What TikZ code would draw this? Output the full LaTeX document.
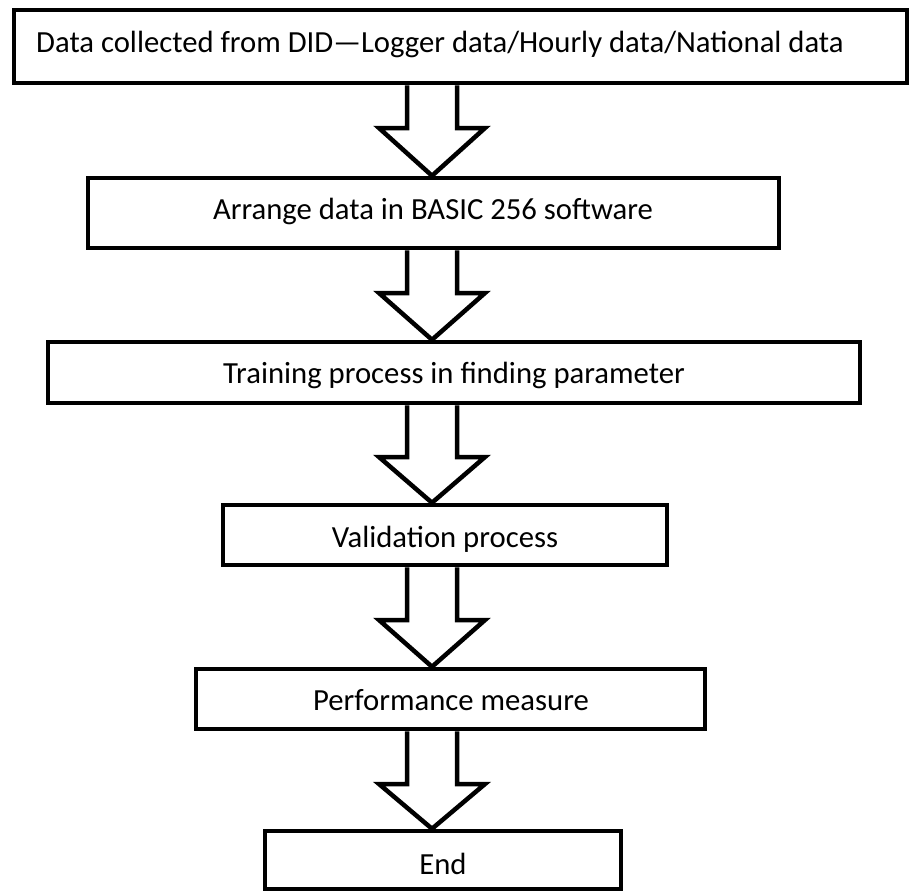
\documentclass[tikz,border=0pt]{standalone}
\usepackage{fontspec}
\setmainfont{Carlito}
\begin{document}
\begin{tikzpicture}[x=1pt,y=-1pt,
  boxnode/.style={draw=black, line width=4.5pt, rectangle, inner sep=0pt, fill=white},
  lbl/.style={font=\fontsize{30.7}{34}\selectfont, inner sep=0pt},
  blockarrow/.style={draw=black, line width=4.5pt, fill=white, line join=miter}]
\useasboundingbox (0,0) rectangle (910,892);
\newcommand\blockarr[4]{%
  \draw[blockarrow] (#3-25,0 |- #1.south) -- (#3-25,#4) -- (#3-53,#4) -- (#3,0 |- #2.north) -- (#3+53,#4) -- (#3+25,#4) -- (#3+25,0 |- #1.south);}
\node[boxnode, minimum width=893, minimum height=73] (b1) at (460.5,46.5) {};
\node[boxnode, minimum width=691, minimum height=70] (b2) at (433.5,213) {};
\node[boxnode, minimum width=812, minimum height=61] (b3) at (454,372.5) {};
\node[boxnode, minimum width=444, minimum height=60] (b4) at (445,535) {};
\node[boxnode, minimum width=509, minimum height=60] (b5) at (450.5,699) {};
\node[boxnode, minimum width=356, minimum height=58] (b6) at (443,860) {};
\node[lbl, anchor=base west] (t1) at (36,52) {Data collected from DID—Logger data/Hourly data/National data};
\node[lbl, anchor=base] (t2) at (433,219) {Arrange data in BASIC 256 software};
\node[lbl, anchor=base] (t3) at (454,383) {Training process in finding parameter};
\node[lbl, anchor=base] (t4) at (445,547) {Validation process};
\node[lbl, anchor=base] (t5) at (451,710) {Performance measure};
\node[lbl, anchor=base] (t6) at (443,874) {End};
\blockarr{b1}{b2}{432}{128}
\blockarr{b2}{b3}{432}{293}
\blockarr{b3}{b4}{432}{457}
\blockarr{b4}{b5}{432}{620}
\blockarr{b5}{b6}{432}{784}
\end{tikzpicture}
\end{document}
